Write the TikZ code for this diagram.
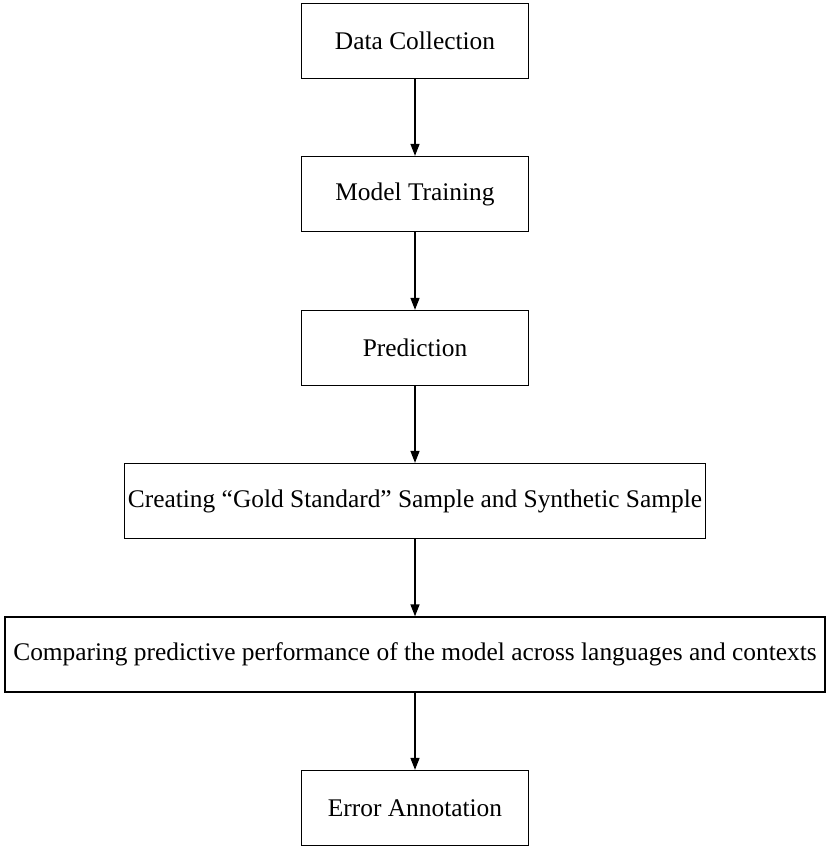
\documentclass[tikz,border=0pt]{standalone}
\usepackage{fontspec}
\setmainfont{Liberation Serif}
\usetikzlibrary{arrows.meta}

\tikzset{
  stage/.style={draw, line width=1.3pt, minimum width=227pt, minimum height=75pt,
    inner sep=0pt, font=\fontsize{25.4}{30}\selectfont},
  flow/.style={-{Triangle[width=9pt,length=12pt]}, line width=1.4pt}
}

\begin{document}
\begin{tikzpicture}[x=1pt,y=-1pt]
\useasboundingbox (0,0) rectangle (827,846);

\node[stage] (collect) at (415,41) {Data Collection};
\node[stage] (train) at (415,194) {Model Training};
\node[stage] (predict) at (415,348) {Prediction};
\node[stage, minimum width=581pt] (sample) at (415,501) {Creating ``Gold Standard'' Sample and Synthetic Sample};
\node[stage, minimum width=820pt] (compare) at (415,654.5) {Comparing predictive performance of the model across languages and contexts};
\node[stage] (annotate) at (415,808) {Error Annotation};

\draw[flow] (collect) -- (train);
\draw[flow] (train) -- (predict);
\draw[flow] (predict) -- (sample);
\draw[flow] (sample) -- (compare);
\draw[flow] (compare) -- (annotate);
\end{tikzpicture}
\end{document}
